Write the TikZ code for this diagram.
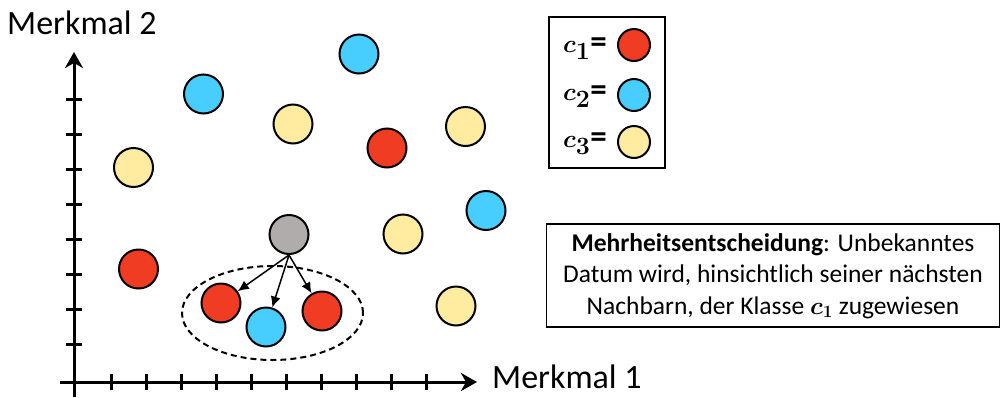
\documentclass[tikz,border=0pt]{standalone}
\usepackage{fontspec}
\setmainfont{Carlito}
\usepackage{amsmath}
\usetikzlibrary{arrows.meta,shapes.geometric}

\begin{document}
\begin{tikzpicture}
			[x=1pt,y=-1pt,
			%Styles
			axes/.style={line width=3pt,-{Stealth[length=16pt,width=18pt,inset=5pt]}},
			axis tick/.style={line width=3pt},
			datum/.style={circle,draw,line width=2pt,minimum size=39pt,inner sep=0pt,fill=#1},
			legend dot/.style={circle,draw,line width=2pt,minimum size=32pt,inner sep=0pt,fill=#1},
			legend text/.style={anchor=base east,inner sep=0pt,font=\fontsize{33}{38}\selectfont\boldmath\bfseries},
			axis label/.style={anchor=base west,inner sep=0pt,font=\fontsize{34}{40}\selectfont},
			information text/.style={align=center,inner sep=0pt,font=\fontsize{25.5}{31.5}\selectfont},
			vote/.style={line width=1.5pt,-{Latex[length=11pt,width=10pt]}}
			]
			\useasboundingbox (0,0) rectangle (1002,397);
			
			%Colors
			\definecolor{classred}{RGB}{240,60,35}
			\definecolor{classblue}{RGB}{72,205,255}
			\definecolor{classyellow}{RGB}{255,236,160}
			\definecolor{unknowngray}{RGB}{176,172,171}
			
			%Axes
			\coordinate (ybot) at (74,397);
			\coordinate (ytop) at (74,52);
			\coordinate (xleft) at (60,382);
			\coordinate (xright) at (477,382);
			\draw[axes] (ybot) -- (ytop);
			\draw[axes] (xleft) -- (xright);
			\foreach \y in {99,134,...,344}
				\draw[axis tick] (66,\y) -- (82,\y);
			\foreach \x in {111,146,...,426}
				\draw[axis tick] (\x,374) -- (\x,390);
			\node[axis label] (m2) at (7,34) {Merkmal 2};
			\node[axis label] (m1) at (492,388) {Merkmal 1};
			
			%The graphic
			\node[datum=classblue] (b1) at (203.5,94) {};
			\node[datum=classblue] (b2) at (359,54) {};
			\node[datum=classblue] (b3) at (486,210.5) {};
			\node[datum=classyellow] (y1) at (133.5,167.5) {};
			\node[datum=classyellow] (y2) at (293,124) {};
			\node[datum=classyellow] (y3) at (465.5,126.5) {};
			\node[datum=classyellow] (y4) at (403,234) {};
			\node[datum=classyellow] (y5) at (456,306) {};
			\node[datum=classred] (r1) at (387,148) {};
			\node[datum=classred] (r2) at (138.5,269) {};
			
			%Nearest neighbours
			\node[ellipse,draw,dashed,line width=2pt,dash pattern=on 6pt off 4pt,minimum width=181pt,minimum height=94pt] (nbhd) at (272.5,313) {};
			\node[datum=classred] (n1) at (221,303) {};
			\node[datum=classblue] (n2) at (266,327) {};
			\node[datum=classred] (n3) at (322,311) {};
			\node[datum=unknowngray] (q) at (289,234.5) {};
			\draw[vote] (q.south) -- (n1);
			\draw[vote] (q.south) -- (n2);
			\draw[vote] (q.south) -- (n3);
			
			%Legend
			\node[draw,line width=2pt,minimum width=116pt,minimum height=151pt] (legend) at (607,92.5) {};
			\node[legend dot=classred] (l1) at (634,45) {};
			\node[legend dot=classblue] (l2) at (634,95) {};
			\node[legend dot=classyellow] (l3) at (634,142) {};
			\node[legend text] (t1) at (607,52) {$c_1$=};
			\node[legend text] (t2) at (607,100) {$c_2$=};
			\node[legend text] (t3) at (607,147) {$c_3$=};
			
			%Explanation
			\node[draw,line width=1.5pt,minimum width=453pt,minimum height=103pt] (note) at (773,275.5) {};
			\node[information text] (notetext) at (773,276) {\textbf{Mehrheitsentscheidung}: Unbekanntes\\Datum wird, hinsichtlich seiner nächsten\\Nachbarn, der Klasse {\boldmath$c_1$} zugewiesen};
		\end{tikzpicture}
\end{document}
